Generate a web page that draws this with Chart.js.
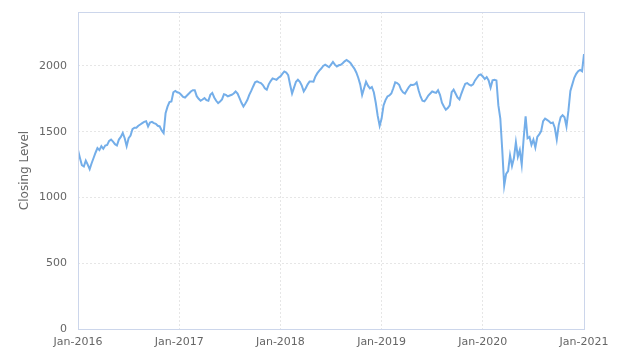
<!DOCTYPE html>
<html>
<head>
<meta charset="utf-8">
<script src="https://cdn.jsdelivr.net/npm/chart.js@4"></script>
<style>
  html, body { margin: 0; padding: 0; background: #fff; }
  #wrap { width: 624px; height: 363px; }
</style>
</head>
<body>
<div id="wrap"><canvas id="chart" width="624" height="363"></canvas></div>
<script>
// weekly closing levels, one array per year
const years = [2016, 2017, 2018, 2019, 2020];
const close2016 = [1360, 1300, 1245, 1235, 1280, 1250, 1215, 1260, 1300, 1340, 1375, 1360, 1390,
    1370, 1395, 1400, 1430, 1440, 1425, 1405, 1395, 1440, 1460, 1490, 1450, 1390, 1450, 1470,
    1520, 1530, 1530, 1545, 1555, 1565, 1575, 1580, 1540, 1570, 1575, 1565, 1560, 1545, 1540,
    1510, 1490, 1640, 1690, 1725, 1730, 1800, 1810, 1800];
const close2017 = [1795, 1781, 1765, 1760, 1775, 1790, 1806, 1815, 1815, 1770, 1750, 1735, 1745,
    1756, 1740, 1735, 1780, 1795, 1760, 1735, 1717, 1730, 1745, 1785, 1780, 1768, 1775, 1781,
    1790, 1806, 1790, 1756, 1720, 1692, 1715, 1740, 1780, 1810, 1844, 1875, 1882, 1875, 1870,
    1855, 1830, 1819, 1860, 1885, 1905, 1900, 1895, 1910];
const close2018 = [1920, 1940, 1958, 1950, 1930, 1857, 1790, 1835, 1880, 1895, 1880, 1850, 1806,
    1830, 1860, 1882, 1882, 1880, 1920, 1945, 1965, 1980, 2000, 2009, 2000, 1990, 2010, 2030,
    2010, 1996, 2005, 2009, 2020, 2035, 2045, 2035, 2022, 2000, 1980, 1950, 1910, 1860, 1780,
    1830, 1880, 1850, 1830, 1840, 1800, 1720, 1620, 1545];
const close2019 = [1600, 1700, 1740, 1768, 1775, 1790, 1830, 1875, 1870, 1857, 1820, 1800, 1790,
    1815, 1840, 1857, 1855, 1860, 1875, 1815, 1768, 1735, 1730, 1750, 1775, 1790, 1806, 1800,
    1795, 1815, 1780, 1720, 1692, 1667, 1680, 1700, 1800, 1820, 1790, 1760, 1745, 1790, 1830,
    1865, 1870, 1857, 1850, 1860, 1890, 1910, 1930, 1935];
const close2020 = [1920, 1900, 1915, 1890, 1835, 1890, 1895, 1890, 1700, 1600, 1360, 1090, 1180,
    1200, 1320, 1240, 1300, 1420, 1310, 1360, 1250, 1450, 1616, 1450, 1460, 1400, 1440, 1380,
    1460, 1480, 1505, 1580, 1600, 1590, 1580, 1565, 1570, 1530, 1440, 1550, 1610, 1625, 1610,
    1540, 1660, 1810, 1860, 1910, 1940, 1960, 1970, 1960, 2090];
const yTicks = [0, 500, 1000, 1500, 2000];

const allYears = [close2016, close2017, close2018, close2019, close2020];
const points = [];
allYears.forEach((arr, k) => {
    arr.forEach((v, i) => points.push({ x: years[k] + i / 52, y: v }));
});

const gridColor = '#e6e6e6';
const textColor = '#666666';

// rectangle around the plot area
const plotBorder = {
    id: 'plotBorder',
    afterDraw(chart) {
        const a = chart.chartArea;
        const ctx = chart.ctx;
        ctx.save();
        ctx.strokeStyle = '#ccd6eb';
        ctx.lineWidth = 1;
        ctx.strokeRect(a.left + 0.5, a.top + 0.5, a.right - a.left, a.bottom - a.top);
        ctx.restore();
    }
};

new Chart(document.getElementById('chart').getContext('2d'), {
    type: 'line',
    data: {
        datasets: [{
            data: points,
            borderColor: '#74aee9',
            borderWidth: 2,
            pointRadius: 0,
            tension: 0,
            fill: false
        }]
    },
    options: {
        responsive: false,
        animation: false,
        layout: { padding: { top: 12, right: 40, left: 0, bottom: 0 } },
        plugins: { legend: { display: false }, tooltip: { enabled: false } },
        scales: {
            x: {
                type: 'linear',
                min: 2016,
                max: 2021,
                afterFit: s => { s.height = 34; s.paddingLeft = 0; s.paddingRight = 0; },
                afterBuildTicks: s => { s.ticks = years.concat([2021]).map(v => ({ value: v })); },
                grid: { color: gridColor, drawTicks: false },
                border: { display: false, dash: [2, 2] },
                ticks: {
                    color: textColor,
                    font: { family: 'DejaVu Sans', size: 11 },
                    padding: 7,
                    maxRotation: 0,
                    autoSkip: false,
                    callback: v => 'Jan-' + v
                }
            },
            y: {
                min: 0,
                max: 2410,
                afterFit: s => { s.width = 78; s.paddingTop = 0; s.paddingBottom = 0; },
                afterBuildTicks: s => { s.ticks = yTicks.map(v => ({ value: v })); },
                grid: { color: gridColor, drawTicks: false },
                border: { display: false, dash: [2, 2] },
                ticks: {
                    color: textColor,
                    font: { family: 'DejaVu Sans', size: 11 },
                    padding: 11,
                    callback: v => String(v)
                },
                title: {
                    display: true,
                    text: 'Closing Level',
                    color: textColor,
                    font: { family: 'DejaVu Sans', size: 12 },
                    padding: { top: 18, bottom: 0 }
                }
            }
        }
    },
    plugins: [plotBorder]
});
</script>
</body>
</html>
